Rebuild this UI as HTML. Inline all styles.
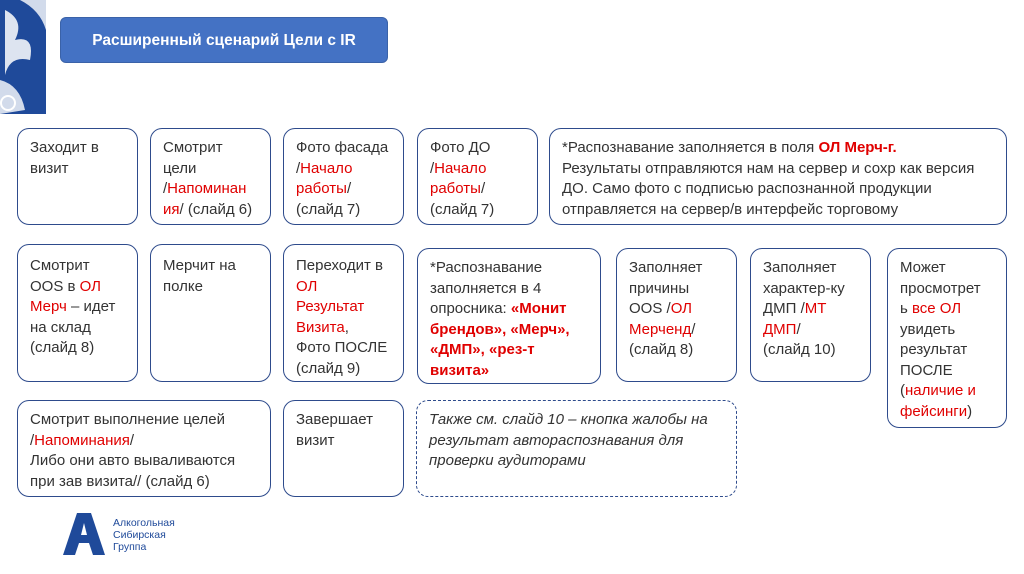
<!DOCTYPE html>
<html><head><meta charset="utf-8"><style>
body{margin:0;width:1024px;height:574px;background:#fff;position:relative;overflow:hidden;font-family:"Liberation Sans",sans-serif;}
.b{position:absolute;border:1.5px solid #2e4b8c;border-radius:12px;box-sizing:border-box;padding:9px 4px 0 12px;font-size:15px;line-height:20.5px;color:#333;white-space:nowrap;}
.r{color:#e00000}
.bb{font-weight:bold}
.d{border-style:dashed;font-style:italic;}
.title{position:absolute;left:60px;top:17px;width:328px;height:46px;background:#4472c4;border:1px solid #3a62a8;border-radius:6px;color:#fff;font-weight:bold;font-size:15.5px;line-height:46px;text-align:center;box-sizing:border-box;}
</style></head><body>
<svg style="position:absolute;left:0;top:0" width="46" height="114"><rect width="46" height="114" fill="#1f4a9a"/>
<path d="M5 10 Q25 20 15 40 Q35 35 30 60 Q10 55 5 75 Z" fill="#fff" opacity=".85"/><path d="M20 0 Q40 10 46 30 L46 0Z" fill="#fff" opacity=".8"/><path d="M0 80 Q20 85 25 110 L0 114Z" fill="#fff" opacity=".8"/><circle cx="8" cy="103" r="7" fill="none" stroke="#fff" stroke-width="2"/></svg>
<div class="title">Расширенный сценарий Цели с IR</div>

<div class="b" style="left:17px;top:128px;width:121px;height:97px">Заходит в<br>визит</div>
<div class="b" style="left:150px;top:128px;width:121px;height:97px">Смотрит<br>цели<br>/<span class="r">Напоминан<br>ия</span>/ (слайд 6)</div>
<div class="b" style="left:283px;top:128px;width:121px;height:97px">Фото фасада<br>/<span class="r">Начало<br>работы</span>/<br>(слайд 7)</div>
<div class="b" style="left:417px;top:128px;width:121px;height:97px">Фото ДО<br>/<span class="r">Начало<br>работы</span>/<br>(слайд 7)</div>
<div class="b" style="left:549px;top:128px;width:458px;height:97px">*Распознавание заполняется в поля <span class="r bb">ОЛ Мерч-г.</span><br>Результаты отправляются нам на сервер и сохр как версия<br>ДО. Само фото с подписью распознанной продукции<br>отправляется на сервер/в интерфейс торговому</div>

<div class="b" style="left:17px;top:244px;width:121px;height:138px;padding-top:11px">Смотрит<br>OOS в <span class="r">ОЛ<br>Мерч</span> – идет<br>на склад<br>(слайд 8)</div>
<div class="b" style="left:150px;top:244px;width:121px;height:138px;padding-top:11px">Мерчит на<br>полке</div>
<div class="b" style="left:283px;top:244px;width:121px;height:138px;padding-top:11px">Переходит в<br><span class="r">ОЛ<br>Результат<br>Визита</span>,<br>Фото ПОСЛЕ<br>(слайд 9)</div>
<div class="b" style="left:417px;top:248px;width:184px;height:136px">*Распознавание<br>заполняется в 4<br>опросника: <span class="r bb">«Монит<br>брендов», «Мерч»,<br>«ДМП», «рез-т<br>визита»</span></div>
<div class="b" style="left:616px;top:248px;width:121px;height:134px">Заполняет<br>причины<br>OOS /<span class="r">ОЛ<br>Мерченд</span>/<br>(слайд 8)</div>
<div class="b" style="left:750px;top:248px;width:121px;height:134px">Заполняет<br>характер-ку<br>ДМП /<span class="r">МТ<br>ДМП</span>/<br>(слайд 10)</div>
<div class="b" style="left:887px;top:248px;width:120px;height:180px">Может<br>просмотрет<br>ь <span class="r">все ОЛ</span><br>увидеть<br>результат<br>ПОСЛЕ<br>(<span class="r">наличие и<br>фейсинги</span>)</div>

<div class="b" style="left:17px;top:400px;width:254px;height:97px">Смотрит выполнение целей<br>/<span class="r">Напоминания</span>/<br>Либо они авто вываливаются<br>при зав визита// (слайд 6)</div>
<div class="b" style="left:283px;top:400px;width:121px;height:97px">Завершает<br>визит</div>
<div class="b d" style="left:416px;top:400px;width:321px;height:97px">Также см. слайд 10 – кнопка жалобы на<br>результат автораспознавания для<br>проверки аудиторами</div>

<svg style="position:absolute;left:63px;top:513px" width="42" height="42"><path d="M14 0 H28 L42 42 H30 L26 30 H16 L12 42 H0 Z M18 22 H24 L21 10 Z" fill="#1f4a9a"/></svg>
<div style="position:absolute;left:113px;top:517px;font-size:10.5px;line-height:12px;color:#1f4a9a">Алкогольная<br>Сибирская<br>Группа</div>
</body></html>
